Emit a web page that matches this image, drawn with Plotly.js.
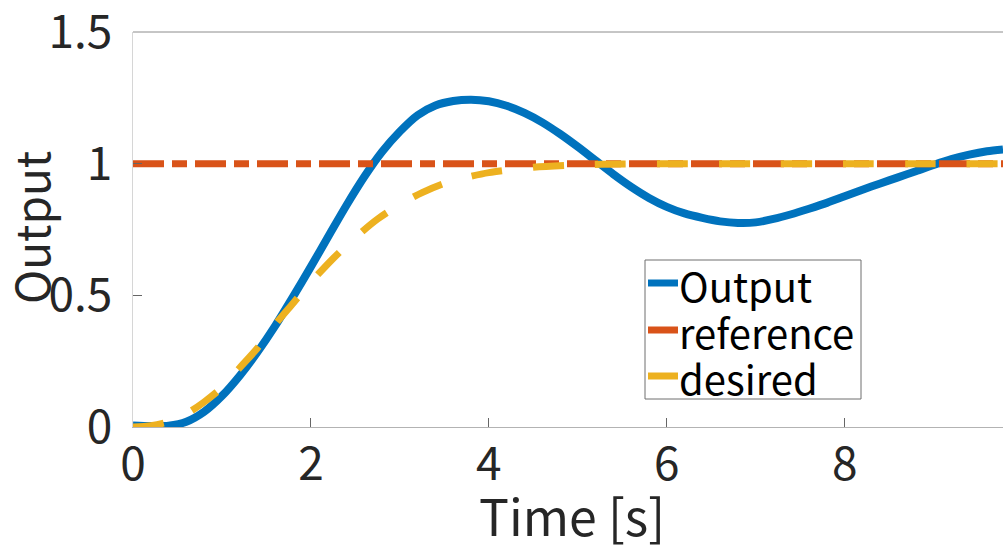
<!DOCTYPE html>
<html>
<head>
<meta charset="utf-8">
<script src="https://cdn.plot.ly/plotly-3.0.1.min.js"></script>
<style>
  html, body { margin: 0; padding: 0; background: #ffffff; }
  #chart { width: 1004px; height: 545px; }
</style>
</head>
<body>
<div id="chart"></div>
<script>
// Step response: measured output, unit reference, desired response
const timeOutput = [0, 0.2, 0.4, 0.6, 0.8, 1.0, 1.2, 1.4, 1.6, 1.8, 2.0, 2.2, 2.4, 2.6, 2.8,
  3.0, 3.2, 3.4, 3.6, 3.8, 4.0, 4.2, 4.4, 4.6, 4.8, 5.0, 5.2, 5.4, 5.6, 5.8, 6.0, 6.2, 6.4,
  6.6, 6.8, 7.0, 7.2, 7.4, 7.6, 7.8, 8.0, 8.2, 8.4, 8.6, 8.8, 9.0, 9.2, 9.4, 9.6, 9.78];
const outputValues = [0.006, 0.004, 0.005, 0.02, 0.058, 0.118, 0.195, 0.285, 0.385, 0.495,
  0.609, 0.726, 0.842, 0.95, 1.045, 1.122, 1.184, 1.221, 1.238, 1.243, 1.237, 1.22, 1.193,
  1.157, 1.113, 1.064, 1.012, 0.96, 0.912, 0.87, 0.836, 0.811, 0.794, 0.781, 0.775, 0.777,
  0.79, 0.808, 0.829, 0.851, 0.876, 0.901, 0.925, 0.948, 0.971, 0.995, 1.017, 1.034, 1.047,
  1.054];

const timeReference = [0, 9.78];
const referenceValues = [1, 1];

const timeDesired = [0, 0.2, 0.4, 0.6, 0.8, 1.0, 1.2, 1.4, 1.6, 1.8, 2.0, 2.25, 2.5, 2.75,
  3.0, 3.25, 3.5, 3.75, 4.0, 4.5, 5.0, 5.5, 6.0, 7.0, 8.0, 9.0, 9.78];
const desiredValues = [0, 0.005, 0.02, 0.05, 0.095, 0.15, 0.225, 0.3, 0.39, 0.47, 0.55, 0.64,
  0.72, 0.79, 0.845, 0.89, 0.925, 0.948, 0.966, 0.986, 0.995, 0.999, 1, 1, 1, 1, 1];

const xTicks = [0, 2, 4, 6, 8];
const yTicks = [0, 0.5, 1, 1.5];
const yTickText = ['0', '0.5', '1', '1.5'];

const seriesNames = ['Output', 'reference', 'desired'];
const seriesColors = ['#0072BD', '#D95319', '#EDB120'];
const xTitle = 'Time [s]';
const yTitle = 'Output';

const FONT = '"Noto Sans CJK JP", "Noto Sans", sans-serif';

// plot-area geometry in page pixels, used to place titles and the legend box
const W = 1004, H = 545;
const M = { l: 133, r: 1, t: 32, b: 118 };
const plotW = W - M.l - M.r, plotH = H - M.t - M.b;
const px = (x) => (x - M.l) / plotW;
const py = (y) => (H - M.b - y) / plotH;

const traces = [
  {
    x: timeOutput, y: outputValues, name: seriesNames[0], mode: 'lines',
    line: { color: seriesColors[0], width: 8, shape: 'spline', smoothing: 0.8 }
  },
  {
    x: timeReference, y: referenceValues, name: seriesNames[1], mode: 'lines',
    line: { color: seriesColors[1], width: 7, dash: '31px,8px,15px,8px' }
  },
  {
    x: timeDesired, y: desiredValues, name: seriesNames[2], mode: 'lines',
    line: { color: seriesColors[2], width: 7, dash: '31px,31px', shape: 'spline', smoothing: 0.8 }
  }
];

// legend: framed box with a short solid sample and a label per series
const legendBox = { x0: 645, y0: 260, x1: 861, y1: 399 };
const rowY = [283, 330, 376];
const shapes = [
  { type: 'line', xref: 'paper', yref: 'paper', x0: 0, x1: 1, y0: 1, y1: 1,
    line: { color: '#8c8c8c', width: 1 } },
  { type: 'rect', xref: 'paper', yref: 'paper',
    x0: px(legendBox.x0), x1: px(legendBox.x1), y0: py(legendBox.y1), y1: py(legendBox.y0),
    fillcolor: '#ffffff', line: { color: '#6e6e6e', width: 1 }, layer: 'above' }
];
const annotations = [
  // axis titles, placed in the margins
  { xref: 'paper', yref: 'paper', x: px(572), y: py(514), xanchor: 'center', yanchor: 'middle',
    showarrow: false, text: xTitle, font: { family: FONT, size: 50, color: '#262626' } },
  { xref: 'paper', yref: 'paper', x: px(30), y: py(228), xanchor: 'center', yanchor: 'middle',
    showarrow: false, textangle: -90, text: yTitle,
    font: { family: FONT, size: 46, color: '#262626' } }
];
seriesNames.forEach((name, i) => {
  shapes.push({
    type: 'line', xref: 'paper', yref: 'paper',
    x0: px(648), x1: px(678), y0: py(rowY[i]), y1: py(rowY[i]),
    line: { color: seriesColors[i], width: 7 }, layer: 'above'
  });
  annotations.push({
    xref: 'paper', yref: 'paper', x: px(677), y: py(rowY[i] + 2),
    xanchor: 'left', yanchor: 'middle', showarrow: false, text: name,
    font: { family: FONT, size: 40, color: '#000000' }
  });
});

const layout = {
  width: W, height: H,
  margin: M,
  paper_bgcolor: '#ffffff', plot_bgcolor: '#ffffff',
  font: { family: FONT, color: '#262626' },
  showlegend: false,
  xaxis: {
    range: [0, 9.78], tickvals: xTicks, ticktext: xTicks.map(String),
    showgrid: false, zeroline: false,
    showline: true, linecolor: '#b3b3b3', linewidth: 1,
    ticks: 'inside', ticklen: 9, tickcolor: '#666666', tickwidth: 1,
    ticklabelstandoff: -3, ticklabeloverflow: 'allow',
    tickfont: { family: FONT, size: 46, color: '#262626' }
  },
  yaxis: {
    range: [0, 1.5], tickvals: yTicks, ticktext: yTickText,
    showgrid: false, zeroline: false,
    showline: true, linecolor: '#d6d6d6', linewidth: 1.5,
    ticks: 'inside', ticklen: 9, tickcolor: '#666666', tickwidth: 1,
    ticklabelstandoff: 10, ticklabeloverflow: 'allow',
    tickfont: { family: FONT, size: 46, color: '#262626' }
  },
  shapes: shapes,
  annotations: annotations
};

Plotly.newPlot('chart', traces, layout, { displayModeBar: false, staticPlot: true });
</script>
</body>
</html>
